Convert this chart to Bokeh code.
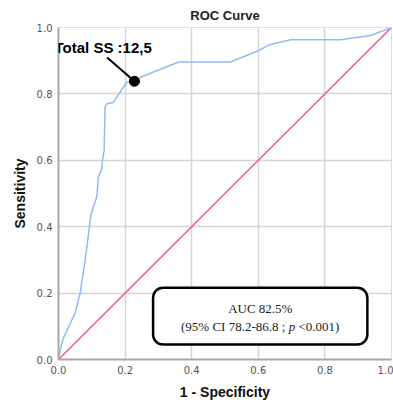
from bokeh.plotting import figure
from bokeh.models import (Range1d, FixedTicker, PrintfTickFormatter, Label,
                          BoxAnnotation)
from bokeh.embed import file_html
from bokeh.resources import INLINE

# ---- data ----
fpr = [0.0, 0.005, 0.015, 0.05, 0.065, 0.08, 0.093, 0.097, 0.115, 0.12, 0.13,
       0.132, 0.137, 0.14, 0.145, 0.165, 0.205, 0.228, 0.246, 0.361, 0.516,
       0.60, 0.636, 0.697, 0.847, 0.937, 1.0]
tpr = [0.0, 0.03, 0.065, 0.14, 0.20, 0.30, 0.40, 0.435, 0.49, 0.55, 0.575,
       0.60, 0.63, 0.76, 0.77, 0.775, 0.835, 0.838, 0.85, 0.896, 0.896,
       0.93, 0.949, 0.963, 0.963, 0.976, 1.0]
ref_x = [0.0, 1.0]
ref_y = [0.0, 1.0]
cutoff_x = [0.228]
cutoff_y = [0.838]
cutoff_label = "Total SS :12,5"
ticks = [0.0, 0.2, 0.4, 0.6, 0.8, 1.0]
auc_line1 = "AUC 82.5%"
auc_line2a = "(95% CI 78.2-86.8 ;"
auc_line2b = "p"
auc_line2c = "<0.001)"

p = figure(width=393, height=402, output_backend="svg", toolbar_location=None,
           x_range=Range1d(0, 1), y_range=Range1d(0, 1),
           min_border_left=58, min_border_right=2, min_border_top=27,
           min_border_bottom=42, background_fill_color="white",
           border_fill_color="white")

p.title.text = "ROC Curve"
p.title.align = "center"
p.title.text_font = "Liberation Sans"
p.title.text_font_size = "13px"
p.title.text_font_style = "bold"
p.title.text_color = "#222222"
p.title.standoff = 9

for ax in (p.xaxis[0], p.yaxis[0]):
    ax.ticker = FixedTicker(ticks=ticks)
    ax.formatter = PrintfTickFormatter(format="%.1f")
    ax.major_tick_out = 0
    ax.major_tick_in = 0
    ax.minor_tick_out = 0
    ax.minor_tick_in = 0
    ax.axis_line_color = "#a8a8a8"
    ax.axis_line_width = 2
    ax.major_label_text_font = "DejaVu Sans"
    ax.major_label_text_font_size = "10px"
    ax.major_label_text_color = "#555555"
    ax.axis_label_text_font = "Liberation Sans"
    ax.axis_label_text_font_size = "14px"
    ax.axis_label_text_font_style = "bold"
    ax.axis_label_text_color = "#111111"

p.xaxis.axis_label = "1 - Specificity"
p.yaxis.axis_label = "Sensitivity"
p.xaxis.major_label_standoff = 6
p.xaxis.axis_label_standoff = 7
p.yaxis.major_label_standoff = 6
p.yaxis.axis_label_standoff = 6

p.grid.grid_line_color = "#d6d6d6"
p.grid.grid_line_width = 1.5
p.outline_line_color = "#dddddd"
p.outline_line_width = 1

# reference diagonal
p.line(ref_x, ref_y, line_color="#e8607c", line_width=1.5)
# ROC curve
p.line(fpr, tpr, line_color="#93bbf0", line_width=1.5)

# AUC box
box = BoxAnnotation(left=0.284, right=0.9275, bottom=0.045, top=0.216,
                    fill_color="white", fill_alpha=1.0, line_color="black",
                    line_alpha=1.0, line_width=2.5, border_radius=10,
                    level="annotation")
p.add_layout(box)

p.add_layout(Label(x=0.606, y=0.153, text=auc_line1, text_align="center",
                   text_baseline="middle", text_font="Liberation Serif",
                   text_font_size="13px", text_color="#222222"))
x0 = 0.368
common = dict(y=0.099, text_baseline="middle", text_align="left",
              text_font="Liberation Serif", text_font_size="13px",
              text_color="#222222")
p.add_layout(Label(x=x0, text=auc_line2a, **common))
p.add_layout(Label(x=x0, x_offset=107.6, text=auc_line2b,
                   text_font_style="italic", **common))
p.add_layout(Label(x=x0, x_offset=117.4, text=auc_line2c, **common))

# cutoff annotation
p.segment(x0=[0.146], y0=[0.91], x1=cutoff_x, y1=cutoff_y,
          line_color="black", line_width=2)
p.scatter(cutoff_x, cutoff_y, size=10, color="black")
p.add_layout(Label(x=-0.012, y=0.94, text=cutoff_label, text_align="left",
                   text_baseline="middle", text_font="Liberation Sans",
                   text_font_size="15px", text_font_style="bold",
                   text_color="black"))

open("out.html", "w").write(file_html(p, INLINE))
